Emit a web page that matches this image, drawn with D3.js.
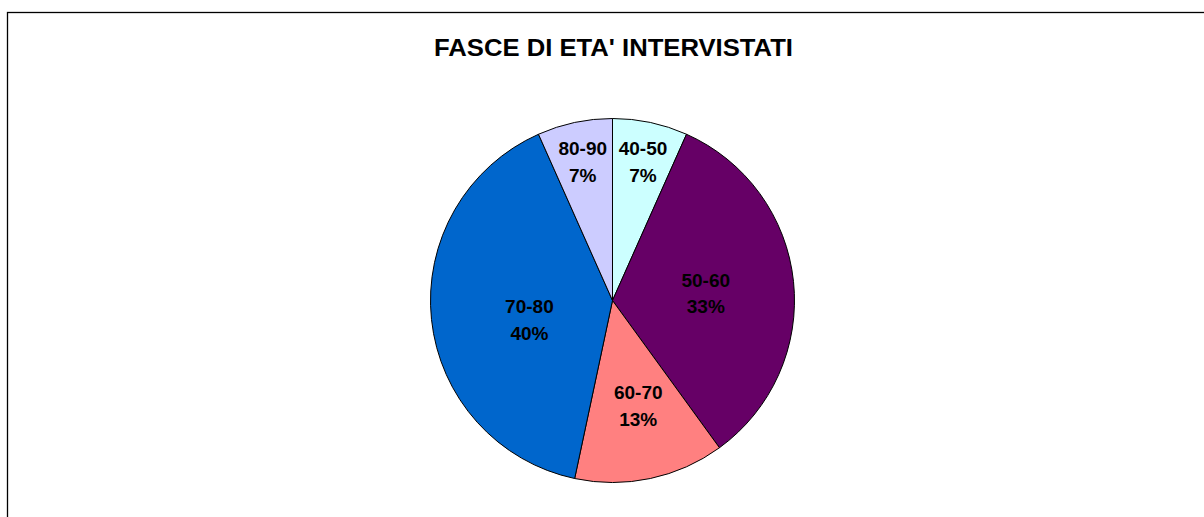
<!DOCTYPE html>
<html><head><meta charset="utf-8">
<script src="https://cdn.jsdelivr.net/npm/d3@7"></script>
<style>html,body{margin:0;padding:0;background:#fff;overflow:hidden}</style>
</head><body>
<svg id="chart" width="1204" height="517"></svg>
<script>
const title = "FASCE DI ETA' INTERVISTATI";
const categories = ["40-50", "50-60", "60-70", "70-80", "80-90"];
const counts = [1, 5, 2, 6, 1];
const colors = ["#CCFFFF", "#660066", "#FF8080", "#0066CC", "#CCCCFF"];

// label layout (Excel best-fit placement): radius fraction and angle shift (deg) per slice
const labelRadiusFrac = [0.781, 0.514, 0.597, 0.469, 0.779];
const labelAngleShift = [0.4, 1.7, -1.7, -7.2, -0.1];

const W = 1204, H = 517;
const svg = d3.select("#chart");
svg.append("rect").attr("x", 7.5).attr("y", 12.5).attr("width", W).attr("height", H)
  .attr("fill", "#fff").attr("stroke", "#000").attr("stroke-width", 1.3);

svg.append("text").attr("x", 613.5).attr("y", 56)
  .attr("text-anchor", "middle")
  .attr("font-family", "Liberation Sans, Arial, sans-serif")
  .attr("font-weight", "bold").attr("font-size", 23)
  .attr("textLength", 359).attr("lengthAdjust", "spacingAndGlyphs")
  .text(title);

const cx = 612.5, cy = 300.5, R = 182;
const total = d3.sum(counts);
const data = categories.map((c, i) => ({cat: c, value: counts[i], color: colors[i], i}));
const pie = d3.pie().value(d => d.value).sort(null);
const arcs = pie(data);
const arc = d3.arc().innerRadius(0).outerRadius(R);

const g = svg.append("g").attr("transform", `translate(${cx},${cy})`);
g.selectAll("path").data(arcs).join("path")
  .attr("d", arc).attr("fill", d => d.data.color)
  .attr("stroke", "#000").attr("stroke-width", 1).attr("stroke-linejoin", "round");

const fmt = v => Math.round(v / total * 100) + "%";
const lab = g.selectAll("g.lab").data(arcs).join("g").attr("class", "lab")
  .attr("transform", d => {
    const r = R * labelRadiusFrac[d.data.i];
    const a = (d.startAngle + d.endAngle) / 2 + labelAngleShift[d.data.i] * Math.PI / 180;
    return `translate(${r * Math.sin(a)},${-r * Math.cos(a)})`;
  });
lab.append("text").attr("y", -6.7).text(d => d.data.cat);
lab.append("text").attr("y", 20).text(d => fmt(d.data.value));
lab.selectAll("text").attr("text-anchor", "middle")
  .attr("font-family", "Liberation Sans, Arial, sans-serif")
  .attr("font-weight", "bold").attr("font-size", 19).attr("fill", "#000");
</script>
</body></html>
